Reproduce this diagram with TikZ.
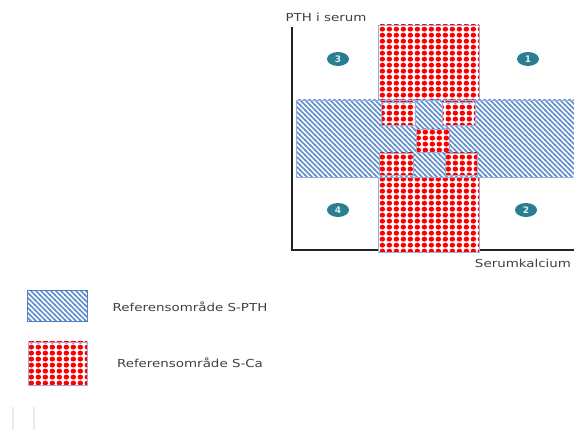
\documentclass[tikz,border=0pt]{standalone}
\usepackage{fontspec}
\setmainfont{DejaVu Sans}
\newfontfamily\lbl[FakeStretch=1.22]{DejaVu Sans}
\usetikzlibrary{patterns,shapes.geometric}
\definecolor{hatchblue}{RGB}{100,144,208}
\definecolor{edgeblue}{RGB}{150,178,220}
\definecolor{boxblue}{RGB}{85,125,190}
\definecolor{ballteal}{RGB}{42,126,146}
\definecolor{txtgray}{RGB}{64,64,64}
\definecolor{axisgray}{RGB}{35,35,35}
\pgfdeclarepatternformonly{reddots}{\pgfpointorigin}{\pgfpoint{7.3pt}{6.3pt}}{\pgfpoint{7.3pt}{6.3pt}}{%
  \pgfpathellipse{\pgfpoint{3.65pt}{3.15pt}}{\pgfpoint{3.0pt}{0pt}}{\pgfpoint{0pt}{2.7pt}}\pgfusepath{fill}}
\pgfdeclarepatternformonly{bluehatch}{\pgfpoint{-1pt}{-1pt}}{\pgfpoint{6pt}{6pt}}{\pgfpoint{5pt}{5pt}}{%
  \pgfsetlinewidth{1.6pt}\pgfpathmoveto{\pgfpoint{-0.5pt}{5.5pt}}\pgfpathlineto{\pgfpoint{5.5pt}{-0.5pt}}\pgfusepath{stroke}}
\begin{document}
\begin{tikzpicture}[x=1pt,y=-1pt,
  redfill/.style={preaction={fill=white},pattern=reddots,pattern color=red,draw=edgeblue,line width=0.7pt},
  bluefill/.style={preaction={fill=white},pattern=bluehatch,pattern color=hatchblue,draw=edgeblue,line width=0.7pt},
  axis/.style={draw=axisgray,line width=1.8pt},
  ball/.style={ellipse,fill=ballteal,minimum width=22pt,minimum height=14pt,inner sep=0pt,text=white!85!ballteal,font=\fontsize{9}{9}\selectfont\bfseries},
  lab/.style={text=txtgray,inner sep=0pt,font=\lbl\fontsize{11}{13}\selectfont},
  faint/.style={draw=black!8,line width=1.2pt}]
\useasboundingbox (0,0) rectangle (574,430);
% axes
\coordinate (ytop) at (292,27);
\coordinate (xend) at (574,250);
\draw[axis] (ytop) |- (xend);
% red vertical band
\path[redfill] (378,25) rectangle (479,252);
% blue horizontal band
\path[bluefill] (296,100) rectangle (576,177);
% red patches in the intersection
\path[redfill] (381,102) rectangle (415,125);
\path[redfill] (442,102) rectangle (475,125);
\path[redfill] (416,129) rectangle (449,152);
\path[redfill] (379,153) rectangle (413,175);
\path[redfill] (445,153) rectangle (477,175);
% numbered markers
\node[ball] (n3) at (338,59) {3};
\node[ball] (n1) at (528,59) {1};
\node[ball] (n4) at (338,210) {4};
\node[ball] (n2) at (526,210) {2};
% axis labels
\node[lab] (ylab) at (326,17) {PTH i serum};
\node[lab] (xlab) at (523,263) {Serumkalcium};
% legend
\path[bluefill,draw=boxblue,line width=1pt] (27,291) rectangle (87,322);
\path[redfill] (28,342) rectangle (87,385);
\node[lab] (l1) at (190,307) {Referensområde S-PTH};
\node[lab] (l2) at (190,363) {Referensområde S-Ca};
% faint marks at bottom left
\draw[faint] (13,407) -- (13,430);
\draw[faint] (34,407) -- (34,430);
\end{tikzpicture}
\end{document}
